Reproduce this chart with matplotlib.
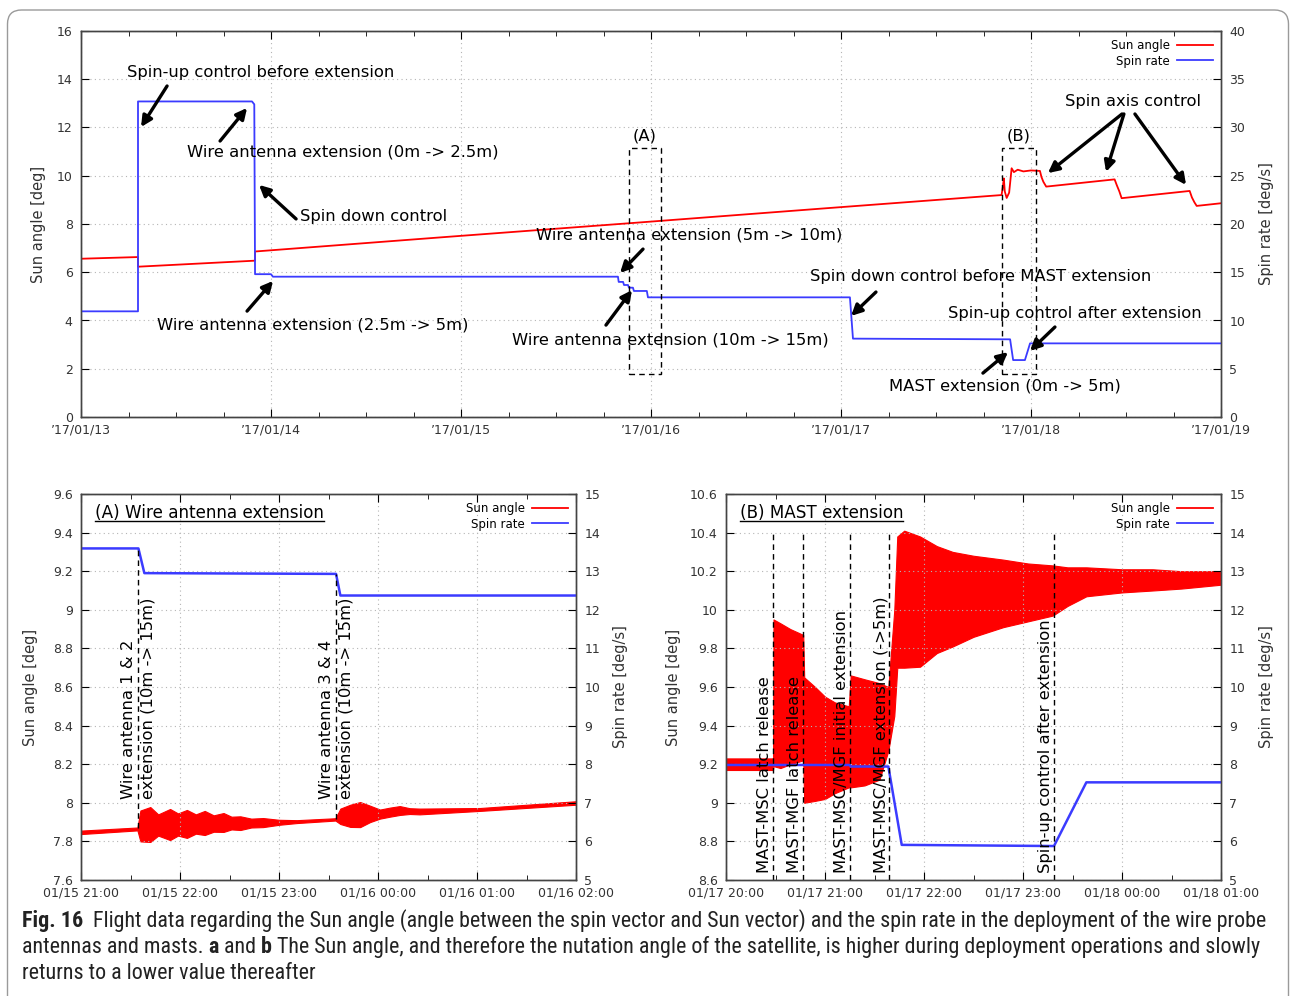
import matplotlib
matplotlib.use("Agg")
import matplotlib.pyplot as plt
import numpy as np
from matplotlib import font_manager
from matplotlib.lines import Line2D
from matplotlib.patches import Rectangle, FancyBboxPatch
from matplotlib.ticker import FuncFormatter

# ---------------- data ----------------
# overview: x in days since 17/01/13 00:00
day_ticks = [0, 1, 2, 3, 4, 5, 6]
day_labels = ["\u201917/01/13", "\u201917/01/14", "\u201917/01/15", "\u201917/01/16",
              "\u201917/01/17", "\u201917/01/18", "\u201917/01/19"]

sun_days = [0.0, 0.30, 0.30, 0.916, 0.916, 1.9, 2.9, 3.9, 4.845, 4.852, 4.857,
            4.862, 4.872, 4.885, 4.898, 4.91, 4.93, 4.96, 5.0, 5.047, 5.055,
            5.065, 5.08, 5.44, 5.452, 5.465, 5.477, 5.835, 5.847, 5.86, 5.872, 6.0]
sun_deg = [6.56, 6.63, 6.23, 6.48, 6.86, 7.45, 8.04, 8.64, 9.20, 9.55, 9.89,
           9.35, 9.08, 9.30, 10.31, 10.15, 10.25, 10.18, 10.22, 10.20, 9.95,
           9.75, 9.55, 9.85, 9.60, 9.35, 9.07, 9.37, 9.10, 8.90, 8.75, 8.86]

spin_days = [0.0, 0.30, 0.30, 0.90, 0.912, 0.916, 1.0, 1.01, 2.826, 2.83, 2.853,
             2.858, 2.879, 2.884, 2.905, 2.91, 2.978, 2.984, 4.047, 4.063, 4.89,
             4.906, 4.968, 4.995, 6.0]
spin_rate = [10.95, 10.95, 32.7, 32.7, 32.4, 14.8, 14.8, 14.54, 14.54, 14.0, 14.0,
             13.68, 13.68, 13.4, 13.4, 13.06, 13.06, 12.4, 12.4, 8.12, 8.05,
             5.9, 5.9, 7.63, 7.63]

# (A) wire antenna extension: x in hours since 01/15 21:00
a_ticks = [0, 1, 2, 3, 4, 5]
a_labels = ["01/15 21:00", "01/15 22:00", "01/15 23:00", "01/16 00:00",
            "01/16 01:00", "01/16 02:00"]
a_sun_t = [0.00, 0.57, 0.60, 0.70, 0.78, 0.90, 0.98, 1.07, 1.16, 1.25, 1.34, 1.44,
           1.52, 1.61, 1.72, 1.84, 2.00, 2.18, 2.57, 2.62, 2.72, 2.82, 2.92, 3.02,
           3.12, 3.22, 3.32, 3.42, 4.03, 5.00]
a_sun_lo = [7.838, 7.857, 7.80, 7.797, 7.83, 7.807, 7.83, 7.818, 7.84, 7.833, 7.85,
            7.849, 7.862, 7.859, 7.872, 7.874, 7.886, 7.895, 7.908, 7.89, 7.875,
            7.874, 7.90, 7.918, 7.928, 7.937, 7.942, 7.940, 7.958, 7.990]
a_sun_hi = [7.856, 7.872, 7.96, 7.978, 7.94, 7.968, 7.945, 7.963, 7.94, 7.958, 7.935,
            7.947, 7.928, 7.930, 7.918, 7.921, 7.912, 7.910, 7.920, 7.97, 7.99,
            8.004, 7.985, 7.965, 7.975, 7.983, 7.972, 7.970, 7.973, 8.008]
a_spin_t = [0.0, 0.58, 0.64, 2.576, 2.62, 5.0]
a_spin = [13.59, 13.59, 12.95, 12.93, 12.37, 12.37]
a_events = [0.576, 2.576]
a_event_labels = ["Wire antenna 1 & 2\nextension (10m -> 15m)",
                  "Wire antenna 3 & 4\nextension (10m -> 15m)"]

# (B) MAST extension: x in hours since 01/17 20:00
b_ticks = [0, 1, 2, 3, 4, 5]
b_labels = ["01/17 20:00", "01/17 21:00", "01/17 22:00", "01/17 23:00",
            "01/18 00:00", "01/18 01:00"]
b_sun_t = [0.00, 0.475, 0.48, 0.55, 0.65, 0.78, 0.79, 0.90, 1.0, 1.10, 1.24, 1.26,
           1.40, 1.55, 1.64, 1.70, 1.73, 1.80, 1.96, 2.13, 2.29, 2.50, 2.80, 3.05,
           3.30, 3.45, 3.64, 4.00, 4.31, 4.60, 5.00]
b_sun_lo = [9.17, 9.17, 9.19, 9.18, 9.20, 9.22, 9.00, 9.01, 9.02, 9.05, 9.08, 9.08,
            9.09, 9.12, 9.27, 9.45, 9.70, 9.70, 9.705, 9.776, 9.81, 9.86, 9.91, 9.94,
            9.97, 10.02, 10.07, 10.09, 10.10, 10.11, 10.13]
b_sun_hi = [9.23, 9.23, 9.95, 9.93, 9.90, 9.87, 9.65, 9.60, 9.55, 9.52, 9.50, 9.66,
            9.64, 9.62, 9.60, 10.0, 10.38, 10.41, 10.38, 10.33, 10.30, 10.28, 10.26,
            10.24, 10.23, 10.22, 10.22, 10.21, 10.21, 10.20, 10.20]
b_spin_t = [0.0, 1.25, 1.26, 1.64, 1.775, 3.313, 3.64, 5.0]
b_spin = [7.98, 7.98, 7.94, 7.94, 5.91, 5.88, 7.53, 7.53]
b_events = [0.478, 0.781, 1.253, 1.650, 3.313]
b_event_labels = ["MAST-MSC latch release", "MAST-MGF latch release",
                  "MAST-MSC/MGF initial extension", "MAST-MSC/MGF extension (->5m)",
                  "Spin-up control after extension"]

RED = "#ff0000"
BLUE = "#3b3bff"
TXT = 11.8
TICK = 9
W, H = 1290, 996

fig = plt.figure(figsize=(W / 100, H / 100), dpi=100)


def px_axes(l, t, r, b):
    return fig.add_axes([l / W, 1 - b / H, (r - l) / W, (b - t) / H])


def style(ax, ax2, xlim, xt, xl, minor, ylim, ystep, y2lim, y2step):
    ax.set_xlim(*xlim)
    ax.set_ylim(*ylim)
    ax2.set_ylim(*y2lim)
    ax.set_xticks(xt)
    ax.set_xticklabels(xl)
    ax.set_xticks(np.arange(xlim[0], xlim[1] + 1e-9, minor), minor=True)
    ax.set_yticks(np.round(np.arange(ylim[0], ylim[1] + ystep / 2, ystep), 6))
    ax2.set_yticks(np.round(np.arange(y2lim[0], y2lim[1] + y2step / 2, y2step), 6))
    fmt = FuncFormatter(lambda v, p: f"{v:g}")
    ax.yaxis.set_major_formatter(fmt)
    ax2.yaxis.set_major_formatter(fmt)
    ax.tick_params(axis="x", which="both", direction="in", top=True, bottom=True,
                   labelsize=TICK, labelcolor="#333333", pad=5)
    ax.tick_params(axis="x", which="major", length=6)
    ax.tick_params(axis="x", which="minor", length=3.5)
    ax.tick_params(axis="y", direction="in", length=6, labelsize=TICK,
                   labelcolor="#333333", pad=6)
    ax2.tick_params(axis="y", direction="in", length=6, labelsize=TICK,
                    labelcolor="#333333", pad=6)
    ax.grid(True, ls=(0, (1, 3)), color="#b5b5b5", lw=0.8)
    for a in (ax, ax2):
        for s in a.spines.values():
            s.set_color("#444444")
            s.set_linewidth(1.0)


def legend(ax2, h_red, h_blue):
    ax2.legend([h_red, h_blue], ["Sun angle", "Spin rate"], loc="upper right",
               markerfirst=False, frameon=False, fontsize=8.5, handlelength=3.0,
               handletextpad=0.6, labelspacing=0.2, borderaxespad=0.3)


def ylabels(xl, xr, yc):
    fig.text(xl / W, 1 - yc / H, "Sun angle [deg]", rotation=90, ha="center",
             va="center", fontsize=10.5, color="#333333")
    fig.text(xr / W, 1 - yc / H, "Spin rate [deg/s]", rotation=90, ha="center",
             va="center", fontsize=10.5, color="#333333")


# ---------------- overview ----------------
ax = px_axes(81, 31, 1221, 417)
ax2 = ax.twinx()
r, = ax.plot(sun_days, sun_deg, color=RED, lw=1.3)
b, = ax2.plot(spin_days, spin_rate, color=BLUE, lw=1.3)
style(ax, ax2, (0, 6), day_ticks, day_labels, 0.25, (0, 16), 2, (0, 40), 5)
legend(ax2, r, b)
ylabels(38, 1266, 224)

arrow = dict(arrowstyle="-|>", color="black", lw=2.4, mutation_scale=16,
             shrinkA=0, shrinkB=0)
notes = [
    ("Spin-up control before extension", (0.242, 14.26), [((0.453, 13.72), (0.316, 12.02))]),
    ("Wire antenna extension (0m -> 2.5m)", (0.558, 10.98), [((0.732, 11.44), (0.874, 12.81))]),
    ("Spin down control", (1.153, 8.33), [((1.132, 8.21), (0.937, 9.62))]),
    ("Wire antenna extension (2.5m -> 5m)", (0.40, 3.81), [((0.874, 4.39), (1.011, 5.64))]),
    ("Wire antenna extension (5m -> 10m)", (2.395, 7.54), [((2.958, 6.96), (2.837, 5.97))]),
    ("Wire antenna extension (10m -> 15m)", (2.268, 3.19), [((2.763, 3.81), (2.90, 5.26))]),
    ("Spin down control before MAST extension", (3.837, 5.84), [((4.184, 5.18), (4.053, 4.19))]),
    ("Spin-up control after extension", (4.563, 4.31), [((5.126, 3.73), (4.995, 2.74))]),
    ("MAST extension (0m -> 5m)", (4.253, 1.28), [((4.747, 1.82), (4.879, 2.69))]),
    ("Spin axis control", (5.179, 13.06), [((5.479, 12.56), (5.089, 10.11)),
                                           ((5.489, 12.56), (5.395, 10.16)),
                                           ((5.547, 12.56), (5.816, 9.62))]),
]
for label, pos, arrows in notes:
    ax2.text(pos[0], pos[1], label, transform=ax.transData, ha="left", va="center",
             fontsize=TXT, zorder=6)
    for tail, head in arrows:
        ax2.annotate("", xy=head, xytext=tail, xycoords=ax.transData,
                     textcoords=ax.transData, arrowprops=arrow, zorder=6)

for name, x0, x1, lx in [("(A)", 2.884, 3.053, 2.968), ("(B)", 4.847, 5.026, 4.937)]:
    ax2.add_patch(Rectangle((x0, 1.78), x1 - x0, 11.15 - 1.78, transform=ax.transData,
                            fill=False, ls=(0, (4, 3)), lw=1.0, ec="black", zorder=5))
    ax2.text(lx, 11.66, name, transform=ax.transData, ha="center", va="center",
             fontsize=TXT, zorder=6)

# ---------------- (A) ----------------
axa = px_axes(81, 494, 576, 880)
axa2 = axa.twinx()
axa.fill_between(a_sun_t, a_sun_lo, a_sun_hi, color=RED, lw=0.8, ec=RED)
axa2.plot(a_spin_t, a_spin, color=BLUE, lw=1.8)
style(axa, axa2, (0, 5), a_ticks, a_labels, 0.5, (7.6, 9.6), 0.2, (5, 15), 1)
legend(axa2, Line2D([], [], color=RED, lw=1.3), Line2D([], [], color=BLUE, lw=1.3))
ylabels(31, 621, 687)
ta = axa2.text(0.028, 0.951, "(A) Wire antenna extension", transform=axa.transAxes,
               ha="left", va="center", fontsize=TXT + 0.3)
for t, lab in zip(a_events, a_event_labels):
    lo = np.interp(t, a_sun_t, a_sun_lo)
    hi = np.interp(t, a_sun_t, a_sun_hi)
    top = 7.6 + (np.interp(t - 0.01, a_spin_t, a_spin) - 5) * 0.2
    axa2.plot([t, t], [(lo + hi) / 2, top], transform=axa.transData, color="black",
              ls=(0, (4, 3)), lw=1.0)
    axa2.text(t, 8.02, lab, transform=axa.transData, rotation=90, ha="center",
              va="bottom", multialignment="left", fontsize=TXT, linespacing=1.35)

# ---------------- (B) ----------------
axb = px_axes(726, 494, 1221, 880)
axb2 = axb.twinx()
axb.fill_between(b_sun_t, b_sun_lo, b_sun_hi, color=RED, lw=0.8, ec=RED)
axb2.plot(b_spin_t, b_spin, color=BLUE, lw=1.8)
style(axb, axb2, (0, 5), b_ticks, b_labels, 0.5, (8.6, 10.6), 0.2, (5, 15), 1)
legend(axb2, Line2D([], [], color=RED, lw=1.3), Line2D([], [], color=BLUE, lw=1.3))
ylabels(674, 1266, 687)
tb = axb2.text(0.028, 0.951, "(B) MAST extension", transform=axb.transAxes,
               ha="left", va="center", fontsize=TXT + 0.3)
for t, lab in zip(b_events, b_event_labels):
    axb2.plot([t, t], [8.6, 10.40], transform=axb.transData, color="black",
              ls=(0, (4, 3)), lw=1.0)
    axb2.text(t - 0.01, 8.636, lab, transform=axb.transData, rotation=90, ha="right",
              va="bottom", fontsize=TXT)

# ---------------- caption ----------------
fonts = font_manager.fontManager.ttflist
names = {f.name for f in fonts}
cap_kw = dict(family="DejaVu Sans")
if "Roboto Condensed" in names:
    cap_kw = dict(family="Roboto Condensed")
elif "Liberation Sans Narrow" in names:
    cap_kw = dict(family="Liberation Sans Narrow")
elif any(f.name == "DejaVu Sans" and f.stretch == "condensed" for f in fonts):
    cap_kw = dict(family="DejaVu Sans", fontstretch="condensed")

cap_lines = [
    [("Fig. 16", True), ("  Flight data regarding the Sun angle (angle between the spin vector "
                         "and Sun vector) and the spin rate in the deployment of the wire probe", False)],
    [("antennas and masts. ", False), ("a", True), (" and ", False), ("b", True),
     (" The Sun angle, and therefore the nutation angle of the satellite, is higher during "
      "deployment operations and slowly", False)],
    [("returns to a lower value thereafter", False)],
]
cap_base = [927, 953, 979]

fig.canvas.draw()
renderer = fig.canvas.get_renderer()


def draw_caption(size):
    made, ends = [], []
    for parts, yb in zip(cap_lines, cap_base):
        x = 22
        for text, bold in parts:
            t = fig.text(x / W, 1 - yb / H, text, fontsize=size,
                         fontweight="bold" if bold else "normal", va="baseline",
                         color="#222222", **cap_kw)
            made.append(t)
            x = t.get_window_extent(renderer).x1
        ends.append(x)
    return made, ends


# fit the first caption line to the width it has in the figure
size = 12.0
for _ in range(3):
    made, ends = draw_caption(size)
    width = ends[0] - 22
    if abs(width - 1245) < 2:
        break
    for t in made:
        t.remove()
    size *= 1245 / width
else:
    made, ends = draw_caption(size)

# underline the panel titles
for t in (ta, tb):
    bb = t.get_window_extent(renderer)
    fig.add_artist(Line2D([bb.x0 / W, bb.x1 / W], [(bb.y0 + 1) / H] * 2,
                          color="black", lw=1.0))

border = FancyBboxPatch((7.5, -30), 1281, H - 10 + 30,
                        boxstyle="round,pad=0,rounding_size=14", transform=None,
                        fill=False, ec="#9a9a9a", lw=1.0)
fig.add_artist(border)

fig.savefig("out.png", dpi=100)
